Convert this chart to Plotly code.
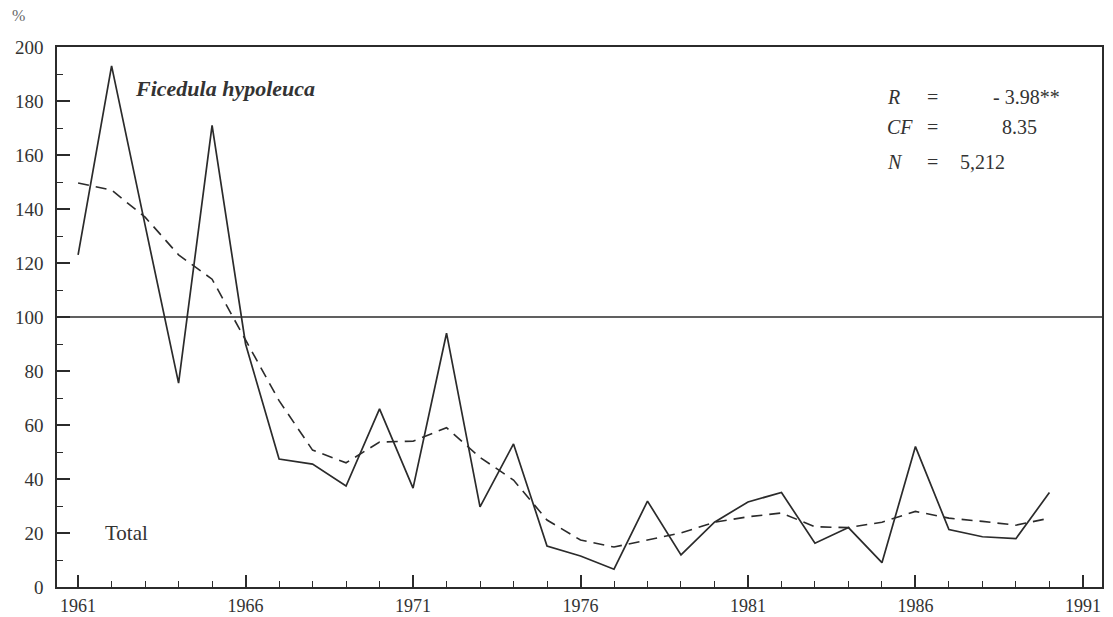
import plotly.graph_objects as go

years = list(range(1961, 1991))
observed = [123, 193, 134, 75.5, 171, 90, 47.4, 45.5, 37.4, 66,
            36.6, 94, 29.7, 53, 15.2, 11.5, 6.6, 31.8, 11.9, 24,
            31.5, 35, 16.2, 22, 9, 52, 21.3, 18.6, 17.9, 35]
smoothed = [149.6, 147, 137, 123, 114, 91.5, 69, 50.7, 46, 53.7,
            54, 59, 48, 39.6, 24.8, 17.4, 14.8, 17.4, 20, 24,
            26, 27.4, 22.3, 22, 24, 28, 25.5, 24.3, 22.9, 25.5]

x_ticks = [1961, 1966, 1971, 1976, 1981, 1986, 1991]
y_ticks = list(range(0, 201, 20))

LINE = "#2b2b2b"
FONT = "Liberation Serif"

fig = go.Figure()
fig.add_trace(go.Scatter(x=years, y=smoothed, mode="lines",
                         line=dict(color=LINE, width=1.6, dash="11px,7px"),
                         showlegend=False, hoverinfo="skip"))
fig.add_trace(go.Scatter(x=years, y=observed, mode="lines",
                         line=dict(color=LINE, width=1.7),
                         showlegend=False, hoverinfo="skip"))

fig.add_shape(type="line", xref="paper", x0=0, x1=1, yref="y", y0=100, y1=100,
              line=dict(color=LINE, width=1.5))

ann_font = dict(family=FONT, size=20, color="#333")
fig.add_annotation(x=1962.64, y=184.8, text="<b><i>Ficedula hypoleuca</i></b>",
                   showarrow=False, xanchor="left", yanchor="middle",
                   font=dict(family=FONT, size=22, color="#333"))
fig.add_annotation(x=1961.75, y=20, text="Total", showarrow=False,
                   xanchor="left", yanchor="middle",
                   font=dict(family=FONT, size=21, color="#333"))
fig.add_annotation(xref="paper", yref="paper", x=-0.037, y=1.059, text="%",
                   showarrow=False, xanchor="center", yanchor="middle",
                   font=dict(family=FONT, size=16, color="#666"))

rows = [(181.5, "<i>R</i>", "- 3.98**", "right", 1990.37),
        (170.4, "<i>CF</i>", "8.35", "right", 1989.7),
        (157.4, "<i>N</i>", "5,212", "left", 1987.27)]
for yv, lab, val, anc, xv in rows:
    fig.add_annotation(x=1985.09, y=yv, text=lab, showarrow=False,
                       xanchor="left", yanchor="middle", font=ann_font)
    fig.add_annotation(x=1986.52, y=yv, text="=", showarrow=False,
                       xanchor="center", yanchor="middle", font=ann_font)
    fig.add_annotation(x=xv, y=yv, text=val, showarrow=False,
                       xanchor=anc, yanchor="middle", font=ann_font)

fig.update_xaxes(range=[1960.37, 1991.57], tickmode="array", tickvals=x_ticks,
                 ticktext=[str(v) for v in x_ticks], automargin=False,
                 ticks="inside", ticklen=12, tickwidth=1.5, tickcolor=LINE,
                 ticklabelstandoff=2,
                 minor=dict(ticks="inside", ticklen=6, dtick=1, tick0=1961,
                            tickcolor=LINE, tickwidth=1.3),
                 showline=True, linecolor=LINE, linewidth=1.6, mirror=True,
                 showgrid=False, zeroline=False,
                 tickfont=dict(family=FONT, size=18, color="#333"))
fig.update_yaxes(range=[0, 200], tickmode="array", tickvals=y_ticks,
                 ticktext=[str(v) for v in y_ticks], automargin=False,
                 ticks="inside", ticklen=13, tickwidth=1.5, tickcolor=LINE,
                 ticklabelstandoff=8,
                 minor=dict(ticks="inside", ticklen=6, dtick=10, tick0=0,
                            tickcolor=LINE, tickwidth=1.3),
                 showline=True, linecolor=LINE, linewidth=1.6, mirror=True,
                 showgrid=False, zeroline=False,
                 tickfont=dict(family=FONT, size=19, color="#333"))

# page body has an 8px default margin, so the figure is sized to fit inside
fig.update_layout(width=1105, height=609,
                  margin=dict(l=49, r=11, t=39, b=30, autoexpand=False),
                  paper_bgcolor="white", plot_bgcolor="white")

fig.write_html("out.html")
